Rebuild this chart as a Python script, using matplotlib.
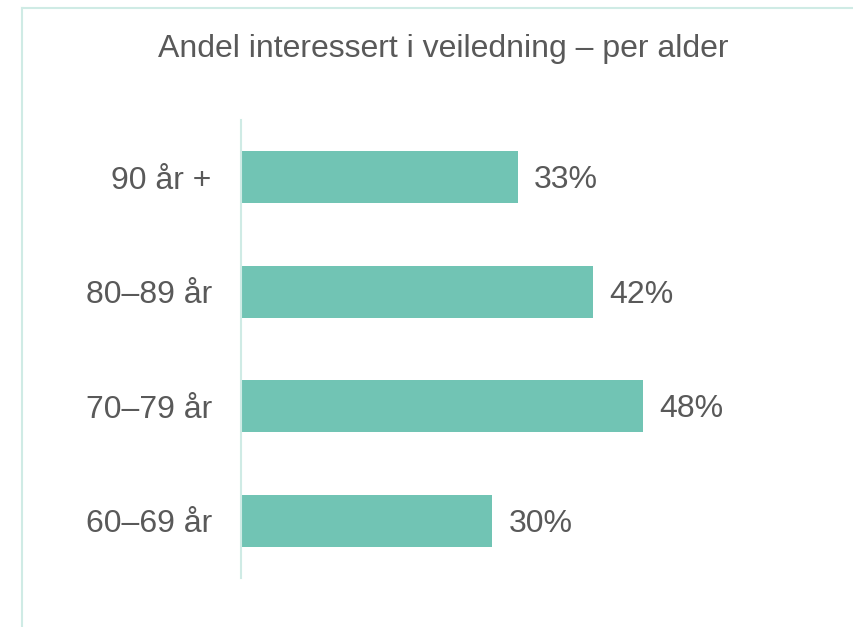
import matplotlib.pyplot as plt
from matplotlib.lines import Line2D

categories = ["60–69 år", "70–79 år", "80–89 år", "90 år +"]
values = [30, 48, 42, 33]
title = "Andel interessert i veiledning – per alder"

W, H = 854, 627
TEXT = "#595959"
BAR = "#71C4B4"
EDGE = "#CFEBE5"

plt.rcParams['font.family'] = ['Liberation Sans', 'DejaVu Sans']


def main():
  fig = plt.figure(figsize=(W / 100, H / 100), dpi=100)

  # axes placed in pixel terms: zero at x=241, rows between y=120 and y=578
  left, right, top, bottom = 241, 241 + 8.38 * 60, 120, 578
  ax = fig.add_axes([left / W, 1 - bottom / H, (right - left) / W, (bottom - top) / H])

  y = range(len(categories))
  ax.barh(y, values, height=0.45, color=BAR)
  for yi, v in zip(y, values):
    ax.annotate(f"{v}%", (v, yi), xytext=(11.5, -2), textcoords="offset points",
                va="center", ha="left", fontsize=23, color=TEXT)

  ax.set_xlim(0, 60)
  ax.set_ylim(-0.5, 3.5)
  ax.set_yticks(list(y))
  ax.set_yticklabels(categories, fontsize=23, color=TEXT)
  ax.tick_params(axis="y", length=0, pad=21)
  ax.set_xticks([])
  for s in ["top", "right", "bottom"]:
    ax.spines[s].set_visible(False)
  ax.spines["left"].set_color(EDGE)
  ax.spines["left"].set_linewidth(1.5)

  fig.text(443 / W, 1 - 49 / H, title, ha="center", va="center", fontsize=23, color=TEXT)

  # outer frame: left and top edges only
  fig.add_artist(Line2D([22 / W, 22 / W], [0, 1 - 8 / H], transform=fig.transFigure,
                        color=EDGE, linewidth=1.5))
  fig.add_artist(Line2D([22 / W, 1], [1 - 8 / H, 1 - 8 / H], transform=fig.transFigure,
                        color=EDGE, linewidth=1.5))

  fig.savefig("out.png", dpi=100)


if __name__ == '__main__':
  main()
